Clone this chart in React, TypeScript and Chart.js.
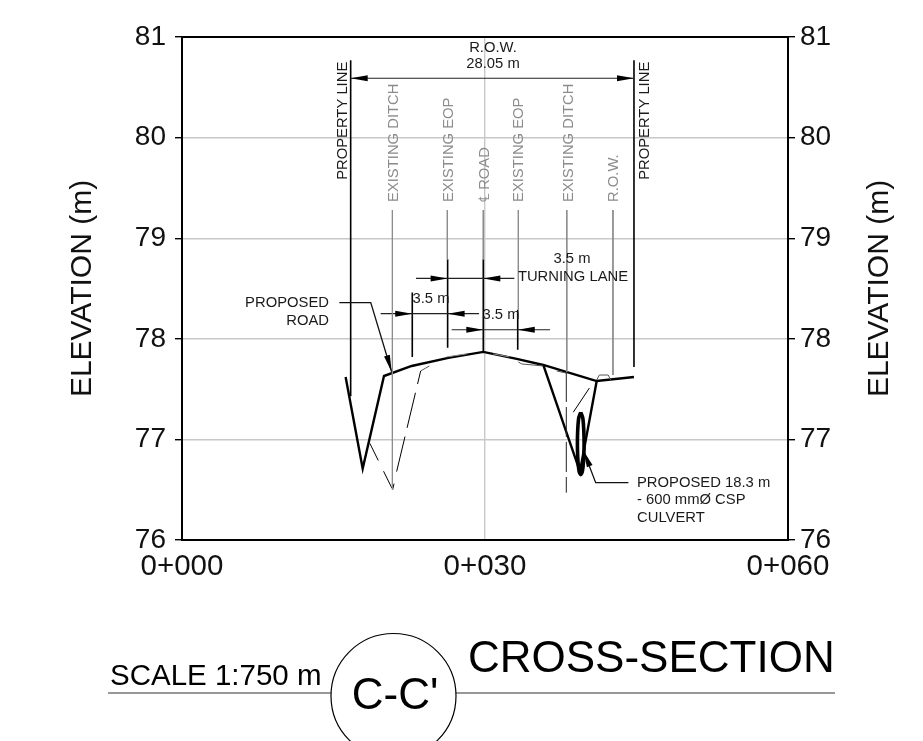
import React, { useEffect, useRef } from "react";
import { Chart, registerables } from "chart.js";

Chart.register(...registerables);

type Pt = { x: number; y: number };
const pts = (a: number[][]): Pt[] => a.map(([x, y]) => ({ x, y }));

// ---- axes ----
const elevationTicks = [76, 77, 78, 79, 80, 81];
const stationTicks = [0, 30, 60];
const stationLabels = ["0+000", "0+030", "0+060"];
const axisTitle = "ELEVATION (m)";

// ---- ground profiles ----
const proposedRoad = [[16.2, 77.62], [17.89, 76.71], [20.0, 77.63], [22.74, 77.73], [26.37, 77.81], [29.83, 77.87], [33.14, 77.8], [35.77, 77.74], [41.06, 77.58], [44.75, 77.62]];
const proposedDitch = [[35.77, 77.74], [39.4, 76.68], [41.06, 77.58]];
const existingLeftA = [[18.6, 76.96], [20.86, 76.5]];
const existingLeftHook = [[20.86, 76.5], [20.99, 76.56]];
const existingLeftB = [[21.25, 76.68], [23.63, 77.68]];
const existingLeftC = [[23.63, 77.68], [24.49, 77.73]];
const existingRightA = [[38.05, 77.67], [38.05, 76.47]];
const existingRightB = [[38.74, 77.27], [40.33, 77.51]];
const existingTopA = [[26.2, 77.82], [28.2, 77.85]];
const existingTopB = [[30.8, 77.85], [32.4, 77.82]];
const existingTopC = [[33.3, 77.77], [33.63, 77.75], [35.77, 77.73]];
const existingTopD = [[37.1, 77.68], [38.02, 77.66]];
const rowCurb = [[41.06, 77.59], [41.32, 77.64], [42.2, 77.64], [42.44, 77.59]];
const culvert = [[39.48, 77.27], [39.7, 77.2], [39.81, 76.96], [39.7, 76.72], [39.48, 76.65], [39.26, 76.72], [39.15, 76.96], [39.26, 77.2], [39.48, 77.27]];

// ---- reference lines ----
const propertyLeft = [[16.7, 80.77], [16.7, 77.43]];
const propertyRight = [[44.75, 80.77], [44.75, 77.72]];
const greyRefLines = [
  [[20.83, 79.28], [20.83, 76.5]],
  [[26.27, 79.28], [26.27, 78.79]],
  [[29.83, 79.28], [29.83, 78.79]],
  [[33.3, 79.28], [33.3, 78.29]],
  [[38.1, 79.28], [38.1, 77.67]],
  [[42.67, 79.28], [42.67, 77.64]],
];
const laneLines = [
  [[22.8, 78.46], [22.8, 77.82]],
  [[26.3, 78.79], [26.3, 77.91]],
  [[29.83, 78.79], [29.83, 77.87]],
  [[33.24, 78.29], [33.24, 77.89]],
];
const dimensionLines = [
  [[16.7, 80.59], [44.75, 80.59]],
  [[23.17, 78.6], [32.9, 78.6]],
  [[19.67, 78.25], [29.41, 78.25]],
  [[26.7, 78.09], [36.44, 78.09]],
];
const leaderRoad = [[15.58, 78.36], [18.69, 78.36], [20.76, 77.67]];
const leaderCulvert = [[44.2, 76.57], [40.96, 76.57], [39.74, 76.89]];

// tipX, tipY, tailX, tailY
const arrows = [
  [16.7, 80.59, 18.5, 80.59],
  [44.75, 80.59, 43, 80.59],
  [26.3, 78.6, 24.7, 78.6],
  [29.83, 78.6, 31.5, 78.6],
  [22.8, 78.25, 21.2, 78.25],
  [26.3, 78.25, 28, 78.25],
  [29.83, 78.09, 28.2, 78.09],
  [33.24, 78.09, 35, 78.09],
  [20.76, 77.67, 20.3, 77.83],
  [39.74, 76.89, 40.1, 76.8],
];

// text, x, y
const blackLabels: [string, number, number][] = [
  ["R.O.W.", 30.79, 80.89],
  ["28.05 m", 30.79, 80.73],
  ["3.5 m", 38.61, 78.79],
  ["TURNING LANE", 38.71, 78.62],
  ["3.5 m", 24.65, 78.4],
  ["3.5 m", 31.58, 78.24],
];
const rightLabels: [string, number, number][] = [
  ["PROPOSED", 14.55, 78.36],
  ["ROAD", 14.55, 78.18],
];
const leftLabels: [string, number, number][] = [
  ["PROPOSED 18.3 m", 45.05, 76.57],
  ["- 600 mmØ CSP", 45.05, 76.4],
  ["CULVERT", 45.05, 76.22],
];
const blackVertical: [string, number, number][] = [
  ["PROPERTY LINE", 15.94, 79.58],
  ["PROPERTY LINE", 45.84, 79.58],
];
const greyVertical: [string, number, number][] = [
  ["EXISTING DITCH", 20.94, 79.36],
  ["EXISTING EOP", 26.44, 79.36],
  ["℄ ROAD", 30.0, 79.36],
  ["EXISTING EOP", 33.4, 79.36],
  ["EXISTING DITCH", 38.27, 79.36],
  ["R.O.W.", 42.77, 79.36],
];

const FONT = '"Liberation Sans", Arial, sans-serif';
const scaleText = "SCALE 1:750 m";
const sectionTitle = "CROSS-SECTION";
const sectionTag = "C-C'";

const line = (data: number[][], color: string, width: number, dash: number[] = [], tension = 0) => ({
  data: pts(data),
  borderColor: color,
  borderWidth: width,
  borderDash: dash,
  tension,
  showLine: true,
  pointRadius: 0,
  fill: false,
  xAxisID: "x",
  yAxisID: "y",
});

const annotations = {
  id: "annotations",
  afterDatasetsDraw(chart: any) {
    const { ctx, chartArea: a, scales } = chart;
    const X = (v: number) => scales.x.getPixelForValue(v);
    const Y = (v: number) => scales.y.getPixelForValue(v);
    ctx.save();
    ctx.strokeStyle = "#000";
    ctx.lineWidth = 2;
    ctx.strokeRect(a.left, a.top, a.right - a.left, a.bottom - a.top);

    ctx.fillStyle = "#000";
    for (const [tx, ty, bx, by] of arrows) {
      const x = X(tx), y = Y(ty);
      const ang = Math.atan2(Y(by) - y, X(bx) - x);
      const len = 17, hw = 3;
      ctx.save();
      ctx.translate(x, y);
      ctx.rotate(ang);
      ctx.beginPath();
      ctx.moveTo(0, 0);
      ctx.lineTo(len, -hw);
      ctx.lineTo(len, hw);
      ctx.closePath();
      ctx.fill();
      ctx.restore();
    }

    ctx.font = `14.8px ${FONT}`;
    ctx.textBaseline = "middle";
    ctx.fillStyle = "#1a1a1a";
    ctx.textAlign = "center";
    for (const [t, x, y] of blackLabels) ctx.fillText(t, X(x), Y(y));
    ctx.textAlign = "right";
    for (const [t, x, y] of rightLabels) ctx.fillText(t, X(x), Y(y));
    ctx.textAlign = "left";
    for (const [t, x, y] of leftLabels) ctx.fillText(t, X(x), Y(y));
    const vertical = (rows: [string, number, number][], color: string) => {
      ctx.fillStyle = color;
      for (const [t, x, y] of rows) {
        ctx.save();
        ctx.translate(X(x), Y(y));
        ctx.rotate(-Math.PI / 2);
        ctx.textAlign = "left";
        ctx.fillText(t, 0, 0);
        ctx.restore();
      }
    };
    vertical(blackVertical, "#1a1a1a");
    vertical(greyVertical, "#8c8c8c");

    // right-hand axis title reads the same way as the left one
    ctx.save();
    ctx.translate(880, (a.top + a.bottom) / 2);
    ctx.rotate(-Math.PI / 2);
    ctx.textAlign = "center";
    ctx.fillStyle = "#111";
    ctx.font = `30px ${FONT}`;
    ctx.fillText(axisTitle, 0, 0);
    ctx.restore();

    // title block under the section
    ctx.fillStyle = "#000";
    ctx.strokeStyle = "#333";
    ctx.lineWidth = 1.2;
    ctx.beginPath();
    ctx.moveTo(108, 693);
    ctx.lineTo(331, 693);
    ctx.moveTo(456, 693);
    ctx.lineTo(835, 693);
    ctx.stroke();
    ctx.strokeStyle = "#000";
    ctx.beginPath();
    ctx.arc(393.5, 696, 62.5, 0, Math.PI * 2);
    ctx.stroke();
    ctx.textBaseline = "alphabetic";
    ctx.textAlign = "left";
    ctx.font = `29.5px ${FONT}`;
    ctx.fillText(scaleText, 110, 685);
    ctx.font = `44px ${FONT}`;
    ctx.fillText(sectionTitle, 468, 672);
    ctx.textAlign = "center";
    ctx.fillText(sectionTag, 395, 709);
    ctx.restore();
  },
};

export default function App() {
  const ref = useRef<HTMLCanvasElement>(null);
  useEffect(() => {
    document.body.style.margin = "0";
    document.body.style.background = "#fff";
    const black = "#000";
    const grey = "#8c8c8c";
    const tickFont = { family: FONT, size: 28 };
    const chart = new Chart(ref.current as HTMLCanvasElement, {
      type: "scatter",
      data: {
        datasets: [
          ...greyRefLines.map((d) => line(d, grey, 1)),
          line(existingLeftA, black, 1, [19, 12]),
          line(existingLeftHook, black, 1),
          line(existingLeftB, black, 1, [36, 9]),
          line(existingLeftC, "#555", 1),
          line(existingRightA, "#222", 1, [30, 5]),
          line(existingRightB, black, 1),
          line(existingTopA, grey, 1),
          line(existingTopB, grey, 1),
          line(existingTopC, "#555", 1),
          line(existingTopD, "#555", 1),
          line(rowCurb, "#555", 1),
          ...dimensionLines.map((d) => line(d, "#222", 1.2)),
          line(leaderRoad, "#111", 1.3),
          line(leaderCulvert, "#111", 1.3),
          line(propertyLeft, black, 1.6),
          line(propertyRight, black, 1.6),
          ...laneLines.map((d) => line(d, black, 1.6)),
          line(proposedRoad, black, 2.4),
          line(proposedDitch, black, 2.4),
          line(culvert, black, 3.6, [], 0.4),
        ] as any,
      },
      options: {
        responsive: false,
        animation: false,
        layout: { padding: { top: 37, left: 0, right: 0, bottom: 0 } },
        plugins: { legend: { display: false }, tooltip: { enabled: false }, title: { display: false } },
        scales: {
          x: {
            type: "linear",
            min: 0,
            max: 60,
            afterFit(s: any) { s.height = 201; },
            afterBuildTicks(s: any) { s.ticks = stationTicks.map((value) => ({ value })); },
            ticks: {
              color: "#111",
              font: { family: FONT, size: 29.5 },
              padding: 9,
              maxRotation: 0,
              autoSkip: false,
              callback: (v: any) => stationLabels[stationTicks.indexOf(Number(v))] ?? "",
            },
            grid: { color: "#c8c8c8", lineWidth: 1.4, tickLength: 0 },
            border: { display: false },
          },
          y: {
            type: "linear",
            position: "left",
            min: 76,
            max: 81,
            afterFit(s: any) { s.width = 182; },
            afterBuildTicks(s: any) { s.ticks = elevationTicks.map((value) => ({ value })); },
            ticks: { color: "#111", font: tickFont, padding: 9 },
            grid: { color: "#c8c8c8", lineWidth: 1.4, tickColor: "#000", tickLength: 7 },
            border: { display: false },
            title: {
              display: true,
              text: axisTitle,
              color: "#111",
              font: { family: FONT, size: 30 },
              padding: { top: 65, bottom: 0 },
            },
          },
          y2: {
            type: "linear",
            position: "right",
            min: 76,
            max: 81,
            afterFit(s: any) { s.width = 135; },
            afterBuildTicks(s: any) { s.ticks = elevationTicks.map((value) => ({ value })); },
            ticks: { color: "#111", font: tickFont, padding: 5 },
            grid: { drawOnChartArea: false, tickColor: "#000", tickLength: 7, lineWidth: 1.4 },
            border: { display: false },
          },
        },
      } as any,
      plugins: [annotations],
    });
    return () => chart.destroy();
  }, []);
  return <canvas ref={ref} width={923} height={741} style={{ display: "block" }} />;
}
